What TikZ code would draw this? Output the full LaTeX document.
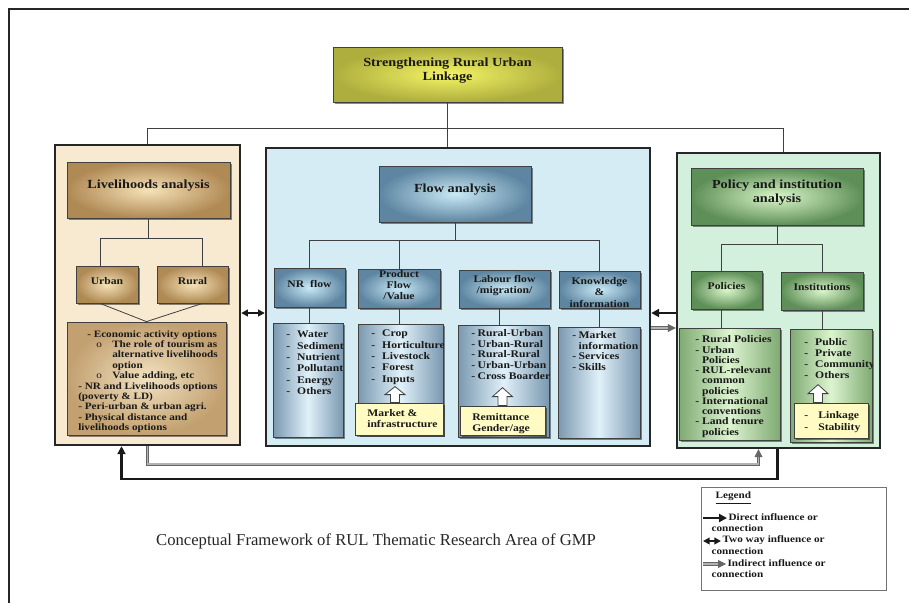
\documentclass[tikz,border=0pt]{standalone}
\usepackage{fontspec}
\setmainfont{Liberation Serif}
\newfontfamily\wf[FakeStretch=1.15]{Liberation Serif}
\usetikzlibrary{fit,calc,shadows,arrows.meta}
\definecolor{lpfill}{HTML}{F7EAD0}
\definecolor{cpfill}{HTML}{D5ECF4}
\definecolor{rpfill}{HTML}{D3F0DD}
\definecolor{tyin}{HTML}{F4F466}
\definecolor{tyout}{HTML}{AEAE3E}
\definecolor{brin}{HTML}{F6E2B8}
\definecolor{brout}{HTML}{B08A55}
\definecolor{brlin}{HTML}{F2E2C0}
\definecolor{brlout}{HTML}{C2A070}
\definecolor{blin}{HTML}{C9E9F5}
\definecolor{blout}{HTML}{5E86A2}
\definecolor{bledge}{HTML}{7A98B0}
\definecolor{blmid}{HTML}{E0F1F9}
\definecolor{grin}{HTML}{D9F6C9}
\definecolor{grout}{HTML}{5F8F58}
\definecolor{gredge}{HTML}{7FAA72}
\definecolor{grmid}{HTML}{DCF4D0}
\definecolor{yfill}{HTML}{FFFBC2}
\newcommand\dsh[1]{\makebox[#1][l]{-}}
\newcommand\lstA{\wf\fontsize{7.6}{8.5}\selectfont\bfseries}
\newcommand\lstB{\wf\fontsize{7.3}{7.8}\selectfont\bfseries}
\newcommand\lstC{\wf\fontsize{7.6}{8.1}\selectfont\bfseries}
\begin{document}
\begin{tikzpicture}[x=0.75pt,y=-0.75pt,
 panel/.style={draw=black!85, line width=1.8pt, inner sep=0pt},
 bx/.style={draw=black!75, line width=0.6pt, inner sep=0pt, align=center, text=black!90,
   drop shadow={shadow xshift=1.3pt, shadow yshift=-1.3pt, opacity=0.45, fill=black}},
 topbox/.style={bx, inner color=tyin, outer color=tyout},
 brhd/.style={bx, inner color=brin, outer color=brout},
 brlist/.style={bx, inner color=brlin, outer color=brlout},
 blhd/.style={bx, inner color=blin, outer color=blout},
 bllist/.style={bx, left color=bledge, right color=bledge, middle color=blmid},
 grhd/.style={bx, inner color=grin, outer color=grout},
 grlist/.style={bx, left color=gredge, right color=gredge, middle color=grmid},
 ybox/.style={bx, fill=yfill},
 hd/.style={font=\wf\fontsize{9.3}{10.5}\selectfont\bfseries},
 sub/.style={font=\wf\fontsize{7.6}{8.3}\selectfont\bfseries},
 lsttext/.style={inner sep=0pt, anchor=north west, align=left, text=black!90},
 conn/.style={draw=black!75, line width=0.6pt},
 direct/.style={draw=black!90, line width=1.6pt, -{Triangle[length=6pt,width=6pt]}},
 twoway/.style={draw=black!90, line width=1.3pt, {Triangle[length=5pt,width=5pt]}-{Triangle[length=5pt,width=5pt]}},
 indirect/.style={draw=black!60, double=black!30, double distance=1.2pt, line width=0.6pt, -{Triangle[length=6pt,width=6pt]}},
 hollow/.style={draw=black!75, line width=0.6pt, fill=white},
 lgt/.style={inner sep=1pt, font=\wf\fontsize{7.3}{9}\selectfont\bfseries, text=black!90}
]
\useasboundingbox (0,0) rectangle (909,603);
\fill[white] (0,0) rectangle (909,603);
\draw[line width=1.4pt, black!85] (9,603) -- (9,9) -- (909,9);

% top
\node[topbox, hd, fit={(333,47)(562,102)}] (top) {Strengthening Rural Urban\\Linkage};

% panels
\node[panel, fill=lpfill, fit={(55,145)(240,445)}] (lp) {};
\node[panel, fill=cpfill, fit={(266,148)(650,446)}] (cp) {};
\node[panel, fill=rpfill, fit={(677,153)(880,448)}] (rp) {};

\coordinate (busy) at (0,128);
\draw[conn] (top.south) -- (top.south |- cp.north);
\draw[conn] (lp.north) -- (lp.north |- busy) -| ($(rp.north)+(5,0)$);

% left panel
\node[brhd, hd, fit={(67,162)(230,218)}] (la) {Livelihoods analysis};
\node[brhd, sub, fit={(76,266)(138,303)}] (urb) {Urban};
\node[brhd, sub, fit={(157,266)(228,303)}] (rur) {Rural};
\node[brlist, fit={(67,322)(226,435)}] (ll) {};
\draw[conn] (la.south) -- ++(0,20) coordinate (lj);
\draw[conn] ($(urb.north)+(-7,0)$) |- (lj) -| ($(rur.north)+(10,0)$);
\draw[conn] ($(urb.south)+(-7,0)$) -- (ll.north) -- ($(rur.south)+(10,0)$);
\begin{scope}
\clip (ll.south west) rectangle (ll.north east);
\node[lsttext, font=\lstB] (llt) at (78,330) {\hspace*{6.75pt}- Economic activity options\\
\hspace*{13.5pt}\makebox[12pt][l]{\mdseries o}The role of tourism as\\
\hspace*{25.5pt}alternative livelihoods\\
\hspace*{25.5pt}option\\
\hspace*{13.5pt}\makebox[12pt][l]{\mdseries o}Value adding, etc\\
- NR and Livelihoods options\\
(poverty \& LD)\\
- Peri-urban \& urban agri.\\
- Physical distance and\\
livelihoods options};
\end{scope}

% central panel
\node[blhd, hd, fit={(379,166)(531,222)}] (fa) {Flow analysis};
\node[blhd, sub, fit={(274,268)(345,307)}] (nrh) {NR~~flow};
\node[blhd, sub, fit={(358,269)(440,308)}] (pfh) {Product\\Flow\\/Value};
\node[blhd, sub, fit={(459,270)(550,308)}] (lbh) {Labour flow\\/migration/};
\node[blhd, sub, fit={(559,271)(640,308)}] (knh) {};
\begin{scope}
\clip (knh.south west) rectangle ($(knh.north east)+(-12,0)$);
\node[sub, inner sep=0pt, align=center, text=black!90] (knt) at ($(knh.center)+(0,3)$) {Knowledge\\\&\\information};
\end{scope}
\draw[conn] (fa.south) -- ++(0,18) coordinate (fj);
\draw[conn] (nrh.north) |- (fj) -| (knh.north);
\draw[conn] (pfh.north) -- (pfh.north |- fj);
\draw[conn] ($(lbh.north)+(-5,0)$) -- ($(lbh.north)+(-5,0)$ |- fj);

\node[bllist, fit={(273,323)(343,437)}] (nrl) {};
\node[bllist, fit={(358,324)(443,435)}] (pfl) {};
\node[bllist, fit={(458,325)(549,437)}] (lbl) {};
\node[bllist, fit={(558,327)(640,438)}] (knl) {};
\draw[conn] (nrh.south) -- (nrh.south |- nrl.north);
\draw[conn] (pfh.south) -- (pfh.south |- pfl.north);
\coordinate (lbd) at ($(lbh.south)+(-5,0)$);
\draw[conn] (lbd) -- (lbd |- lbl.north);
\draw[conn] (knh.south) -- (knh.south |- knl.north);

\begin{scope}
\clip (nrl.south west) rectangle (nrl.north east);
\node[lsttext, font=\lstA] (nrt) at (286,331) {\dsh{8.2pt}Water\\\dsh{8.2pt}Sediment\\\dsh{8.2pt}Nutrient\\\dsh{8.2pt}Pollutant\\\dsh{8.2pt}Energy\\\dsh{8.2pt}Others};
\end{scope}
\begin{scope}
\clip (pfl.south west) rectangle (pfl.north east);
\node[lsttext, font=\lstA] (pft) at (371,330) {\dsh{8.2pt}Crop\\\dsh{8.2pt}Horticulture\\\dsh{8.2pt}Livestock\\\dsh{8.2pt}Forest\\\dsh{8.2pt}Inputs};
\end{scope}
\begin{scope}
\clip (lbl.south west) rectangle (lbl.north east);
\node[lsttext, font=\lstC] (lbt) at (471,329) {\dsh{4.8pt}Rural-Urban\\\dsh{4.8pt}Urban-Rural\\\dsh{4.8pt}Rural-Rural\\\dsh{4.8pt}Urban-Urban\\\dsh{4.8pt}Cross Boarder};
\end{scope}
\begin{scope}
\clip (knl.south west) rectangle (knl.north east);
\node[lsttext, font=\lstC] (knlt) at (572,331) {\dsh{4.8pt}Market\\\hspace*{4.8pt}information\\\dsh{4.8pt}Services\\\dsh{4.8pt}Skills};
\end{scope}

\node[ybox, fit={(355,403)(443,435)}] (mk) {};
\node[ybox, fit={(460,406)(545,435)}] (rm) {};
\node[lsttext, font=\lstC] (mkt) at (367,409.5) {Market \&\\infrastructure};
\node[lsttext, font=\wf\fontsize{7.6}{7.9}\selectfont\bfseries] (rmt) at (472,413.5) {Remittance\\Gender/age};
\draw[hollow, shift={($(mk.north)+(-4,0)$)}] (-4.5,0) -- (-4.5,-8) -- (-10,-8) -- (0,-16) -- (10,-8) -- (4.5,-8) -- (4.5,0) -- cycle;
\draw[hollow, shift={(rm.north)}] (-4.5,0) -- (-4.5,-9) -- (-10,-9) -- (0,-18) -- (10,-9) -- (4.5,-9) -- (4.5,0) -- cycle;

% right panel
\node[grhd, hd, fit={(691,168)(863,225)}] (pa) {Policy and institution\\analysis};
\node[grhd, sub, fit={(691,271)(762,309)}] (pol) {Policies};
\node[grhd, sub, fit={(781,272)(863,310)}] (ins) {Institutions};
\node[grlist, fit={(679,328)(780,440)}] (poll) {};
\node[grlist, fit={(790,329)(872,442)}] (insl) {};
\draw[conn] (pa.south) -- ++(0,19) coordinate (rj);
\coordinate (pold) at ($(pol.north)+(-5,0)$);
\draw[conn] (pold) |- (rj) -| (ins.north);
\coordinate (pols) at ($(pol.south)+(-5,0)$);
\draw[conn] (pols) -- (pols |- poll.north);
\draw[conn] (ins.south) -- (ins.south |- insl.north);
\node[lsttext, font=\wf\fontsize{7.6}{7.7}\selectfont\bfseries] (polt) at (695,335.5) {-~Rural Policies\\-~Urban\\\phantom{-~}Policies\\-~RUL-relevant\\\phantom{-~}common\\\phantom{-~}policies\\-~International\\\phantom{-~}conventions\\-~Land tenure\\\phantom{-~}policies};
\begin{scope}
\clip (insl.south west) rectangle (insl.north east);
\node[lsttext, font=\wf\fontsize{7.6}{8.25}\selectfont\bfseries] (inst) at (804,338.5) {\dsh{8.2pt}Public\\\dsh{8.2pt}Private\\\dsh{8.2pt}Community\\\dsh{8.2pt}Others};
\end{scope}
\node[ybox, fit={(794,403)(868,438)}] (lk) {};
\node[lsttext, font=\wf\fontsize{7.6}{9}\selectfont\bfseries] (lkt) at (804,411.5) {\dsh{10.5pt}Linkage\\\dsh{10.5pt}Stability};
\draw[hollow, shift={($(lk.north)+(-13,0)$)}] (-4.5,0) -- (-4.5,-9) -- (-10,-9) -- (0,-18) -- (10,-9) -- (4.5,-9) -- (4.5,0) -- cycle;

% inter-panel arrows
\coordinate (ya) at (0,313);
\coordinate (yb) at (0,328);
\draw[twoway] (lp.east |- ya) -- (cp.west |- ya);
\draw[direct] (rp.west |- ya) -- (cp.east |- ya);
\draw[indirect] (cp.east |- yb) -- (rp.west |- yb);
\draw[indirect] (lp.south) -- ++(0,18) -| ($(rp.south)+(-20,0)$);
\draw[direct] ($(rp.south)+(-1,0)$) -- ++(0,30) -| ($(lp.south)+(-26,0)$);

% caption
\node[font=\fontsize{12.5}{14}\selectfont, text=black!85] (cap) at (376,541) {Conceptual Framework of RUL Thematic Research Area of GMP};

% legend
\node[draw=black!55, line width=0.6pt, fill=white, inner sep=0pt, fit={(701,487)(886,590)}] (leg) {};
\node[lgt, anchor=west] (legt) at (714,498) {\underline{Legend}};
\node[lgt, anchor=west] (l1a) at (727,517) {Direct influence or};
\node[lgt, anchor=west] (l1b) at (710,528) {connection};
\coordinate (l1s) at (703,518);
\draw[direct] (l1s) -- (l1a.west |- l1s);
\node[lgt, anchor=west] (l2a) at (721,540) {Two way influence or};
\node[lgt, anchor=west] (l2b) at (710,551) {connection};
\coordinate (l2s) at (703,541);
\draw[twoway] (l2s) -- (l2a.west |- l2s);
\node[lgt, anchor=west] (l3a) at (726,563) {Indirect influence or};
\node[lgt, anchor=west] (l3b) at (710,574) {connection};
\coordinate (l3s) at (703,564);
\draw[indirect] (l3s) -- (l3a.west |- l3s);
\end{tikzpicture}
\end{document}
